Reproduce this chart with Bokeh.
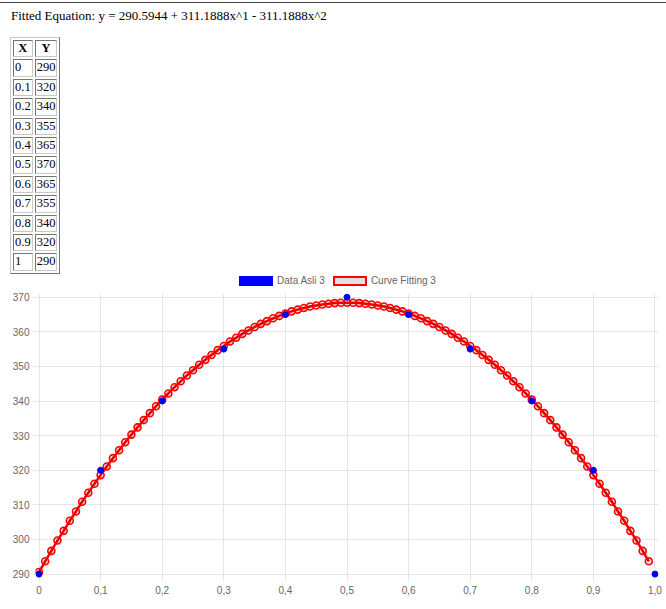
from bokeh.plotting import figure
from bokeh.models import Div, FixedTicker, Range1d, ColumnDataSource
from bokeh.layouts import column
from bokeh.embed import file_html
from bokeh.resources import INLINE

equation_text = "Fitted Equation: y = 290.5944 + 311.1888x^1 - 311.1888x^2"

x_data = [0, 0.1, 0.2, 0.3, 0.4, 0.5, 0.6, 0.7, 0.8, 0.9, 1]
y_data = [290, 320, 340, 355, 365, 370, 365, 355, 340, 320, 290]
x_table_labels = ["0", "0.1", "0.2", "0.3", "0.4", "0.5", "0.6", "0.7", "0.8", "0.9", "1"]

x_fit = [0.00, 0.01, 0.02, 0.03, 0.04, 0.05, 0.06, 0.07, 0.08, 0.09,
         0.10, 0.11, 0.12, 0.13, 0.14, 0.15, 0.16, 0.17, 0.18, 0.19,
         0.20, 0.21, 0.22, 0.23, 0.24, 0.25, 0.26, 0.27, 0.28, 0.29,
         0.30, 0.31, 0.32, 0.33, 0.34, 0.35, 0.36, 0.37, 0.38, 0.39,
         0.40, 0.41, 0.42, 0.43, 0.44, 0.45, 0.46, 0.47, 0.48, 0.49,
         0.50, 0.51, 0.52, 0.53, 0.54, 0.55, 0.56, 0.57, 0.58, 0.59,
         0.60, 0.61, 0.62, 0.63, 0.64, 0.65, 0.66, 0.67, 0.68, 0.69,
         0.70, 0.71, 0.72, 0.73, 0.74, 0.75, 0.76, 0.77, 0.78, 0.79,
         0.80, 0.81, 0.82, 0.83, 0.84, 0.85, 0.86, 0.87, 0.88, 0.89,
         0.90, 0.91, 0.92, 0.93, 0.94, 0.95, 0.96, 0.97, 0.98, 0.99]
y_fit = [290.6, 293.7, 296.7, 299.7, 302.5, 305.4, 308.1, 310.9, 313.5, 316.1,
         318.6, 321.1, 323.5, 325.8, 328.1, 330.3, 332.4, 334.5, 336.5, 338.5,
         340.4, 342.2, 344.0, 345.7, 347.4, 348.9, 350.5, 351.9, 353.3, 354.7,
         355.9, 357.2, 358.3, 359.4, 360.4, 361.4, 362.3, 363.1, 363.9, 364.6,
         365.3, 365.9, 366.4, 366.9, 367.3, 367.6, 367.9, 368.1, 368.3, 368.4,
         368.4, 368.4, 368.3, 368.1, 367.9, 367.6, 367.3, 366.9, 366.4, 365.9,
         365.3, 364.6, 363.9, 363.1, 362.3, 361.4, 360.4, 359.4, 358.3, 357.2,
         355.9, 354.7, 353.3, 351.9, 350.5, 348.9, 347.4, 345.7, 344.0, 342.2,
         340.4, 338.5, 336.5, 334.5, 332.4, 330.3, 328.1, 325.8, 323.5, 321.1,
         318.6, 316.1, 313.5, 310.9, 308.1, 305.4, 302.5, 299.7, 296.7, 293.7]

x_ticks = [0, 0.1, 0.2, 0.3, 0.4, 0.5, 0.6, 0.7, 0.8, 0.9, 1.0]
x_tick_labels = ["0", "0,1", "0,2", "0,3", "0,4", "0,5", "0,6", "0,7", "0,8", "0,9", "1,0"]
y_ticks = [290, 300, 310, 320, 330, 340, 350, 360, 370]

series_names = ["Data Asli 3", "Curve Fitting 3"]
series_fill = ["blue", "#e0e0e0"]
series_line = ["blue", "red"]

# ---------- header ----------
header = Div(text=equation_text, width=666, height=25, margin=(2, 0, 0, 0),
             styles={"border-top": "1px solid #444", "font-family": "Liberation Serif",
                     "font-size": "13px", "padding-top": "4px", "padding-left": "11px",
                     "color": "black", "box-sizing": "border-box"})

# ---------- table ----------
cell = "border:1px inset #c8c8c8;padding:1px;"
rows = ("<tr><th style='%stext-align:center'>X</th><th style='%stext-align:center'>Y</th></tr>"
        % (cell, cell))
for xl, yv in zip(x_table_labels, y_data):
    rows += "<tr><td style='%s'>%s</td><td style='%s'>%d</td></tr>" % (cell, xl, cell, yv)
table_html = ("<table style=\"border:1px outset #c8c8c8;border-collapse:separate;border-spacing:2px;"
              "font-family:'Liberation Serif';font-size:12.5px;line-height:13.4px;"
              "margin-top:10px;margin-left:10px;color:black;text-align:left\">" + rows + "</table>")
table_div = Div(text=table_html, width=666, height=243, margin=0)

# ---------- legend (HTML) ----------
items = ""
for i, (nm, fc, lc) in enumerate(zip(series_names, series_fill, series_line)):
    bw = "1px" if i == 0 else "2px"
    items += ("<span style=\"display:inline-flex;align-items:center;margin:0 4px\">"
              "<span style=\"display:inline-block;box-sizing:border-box;width:34px;height:10px;"
              "background:%s;border:%s solid %s;margin-right:4px\"></span>%s</span>" % (fc, bw, lc, nm))
legend_html = ("<div style=\"width:666px;height:18px;display:flex;justify-content:center;align-items:flex-end;"
               "padding-left:9px;box-sizing:border-box;font-family:'Liberation Sans';font-size:10px;"
               "color:#666\">" + items + "</div>")
legend_div = Div(text=legend_html, width=666, height=19, margin=0)

# ---------- chart ----------
p = figure(width=666, height=311, output_backend="svg", toolbar_location=None,
           x_range=Range1d(-0.0057, 1.0057), y_range=Range1d(288.73, 371.07),
           min_border_left=35, min_border_right=8, min_border_top=4, min_border_bottom=22,
           margin=0)
p.outline_line_color = None
p.background_fill_color = "white"
p.border_fill_color = "white"

for ax in (p.xaxis[0], p.yaxis[0]):
    ax.axis_line_color = None
    ax.major_tick_line_color = "#e6e6e6"
    ax.major_tick_in = 0
    ax.major_tick_out = 3
    ax.minor_tick_line_color = None
    ax.major_label_text_font = "Liberation Sans"
    ax.major_label_text_font_size = "10px"
    ax.major_label_text_color = "#666666"
p.xaxis.major_label_standoff = 4
p.yaxis.major_label_standoff = 3

p.xaxis.ticker = FixedTicker(ticks=x_ticks)
p.xaxis.major_label_overrides = dict(zip(x_ticks, x_tick_labels))
p.yaxis.ticker = FixedTicker(ticks=y_ticks)
p.xgrid.ticker = FixedTicker(ticks=x_ticks)
p.ygrid.ticker = FixedTicker(ticks=y_ticks)
p.xgrid.grid_line_color = "#e6e6e6"
p.ygrid.grid_line_color = "#e6e6e6"

fit_src = ColumnDataSource(dict(x=x_fit, y=y_fit))
data_src = ColumnDataSource(dict(x=x_data, y=y_data))

p.line("x", "y", source=fit_src, line_color="red", line_width=2.5)
p.scatter("x", "y", source=fit_src, size=7, marker="circle", line_color="red",
          line_width=1.6, fill_color="black", fill_alpha=0.1)
p.scatter("x", "y", source=data_src, size=6, marker="circle", line_color="blue",
          fill_color="blue")

layout = column(header, table_div, legend_div, p, spacing=0)
open("out.html", "w").write(file_html(layout, INLINE))
